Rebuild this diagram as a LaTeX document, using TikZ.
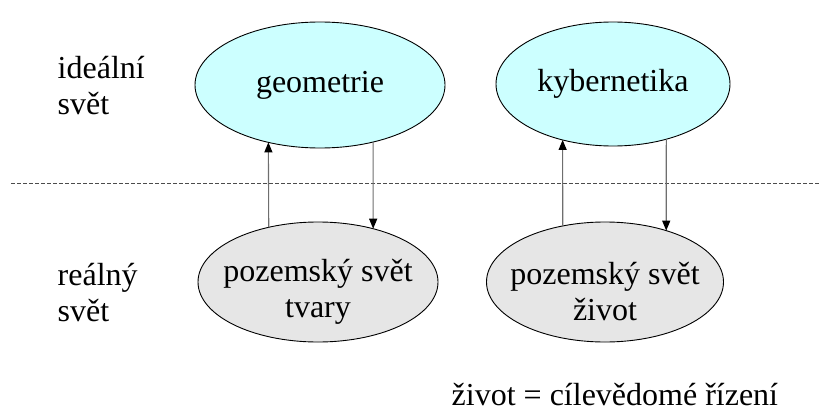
\documentclass[tikz,border=0pt]{standalone}
\usepackage{fontspec}
\setmainfont{Liberation Serif}
\usetikzlibrary{shapes.geometric,arrows.meta}
\begin{document}
\begin{tikzpicture}[x=1pt,y=-1pt,
  ell/.style={ellipse,draw=black,line width=0.9pt,inner sep=0pt,outer sep=0pt,align=center,font=\rmfamily\fontsize{32}{36}\selectfont},
  up/.style={fill={rgb,255:red,204;green,255;blue,255}},
  low/.style={fill={rgb,255:red,230;green,230;blue,230}},
  lbl/.style={anchor=base west,inner sep=0pt,font=\rmfamily\fontsize{32}{36}\selectfont},
  conn/.style={draw={rgb,255:red,110;green,110;blue,110},line width=1.1pt,-{Triangle[length=10pt,width=8pt,color=black]}}]
\useasboundingbox (0,0) rectangle (819,412);
\node[ell,up,minimum width=250,minimum height=126] (g) at (320,85) {geometrie};
\node[ell,up,minimum width=234,minimum height=124] (k) at (613,84) {kybernetika};
\node[ell,low,minimum width=240,minimum height=120] (p1) at (318,282)
  {\makebox[0pt]{\rule{0pt}{41pt}pozemský svět}\\\makebox[0pt]{tvary}};
\node[ell,low,minimum width=237,minimum height=120] (p2) at (605,282)
  {\makebox[0pt]{\rule{0pt}{41pt}pozemský svět}\\\makebox[0pt]{život}};
\coordinate (dl) at (11,183);
\coordinate (dr) at (819,183);
\draw[black!70,line width=0.9pt,dash pattern=on 4pt off 2pt] (dl) -- (dr);
\node[lbl] (t1a) at (57.5,78) {ideální};
\node[lbl] (t1b) at (57.5,114) {svět};
\node[lbl] (t2a) at (57.5,285) {reálný};
\node[lbl] (t2b) at (57.5,321) {svět};
\node[lbl] (t3) at (451.5,405) {život = cílevědomé řízení};
\draw[conn] (p1.132.5) -- (g.-132.2);
\draw[conn] (g.-47.1) -- (p1.44.1);
\draw[conn] (p2.127.6) -- (k.-132.4);
\draw[conn] (k.-46.2) -- (p2.40.1);
\end{tikzpicture}
\end{document}
